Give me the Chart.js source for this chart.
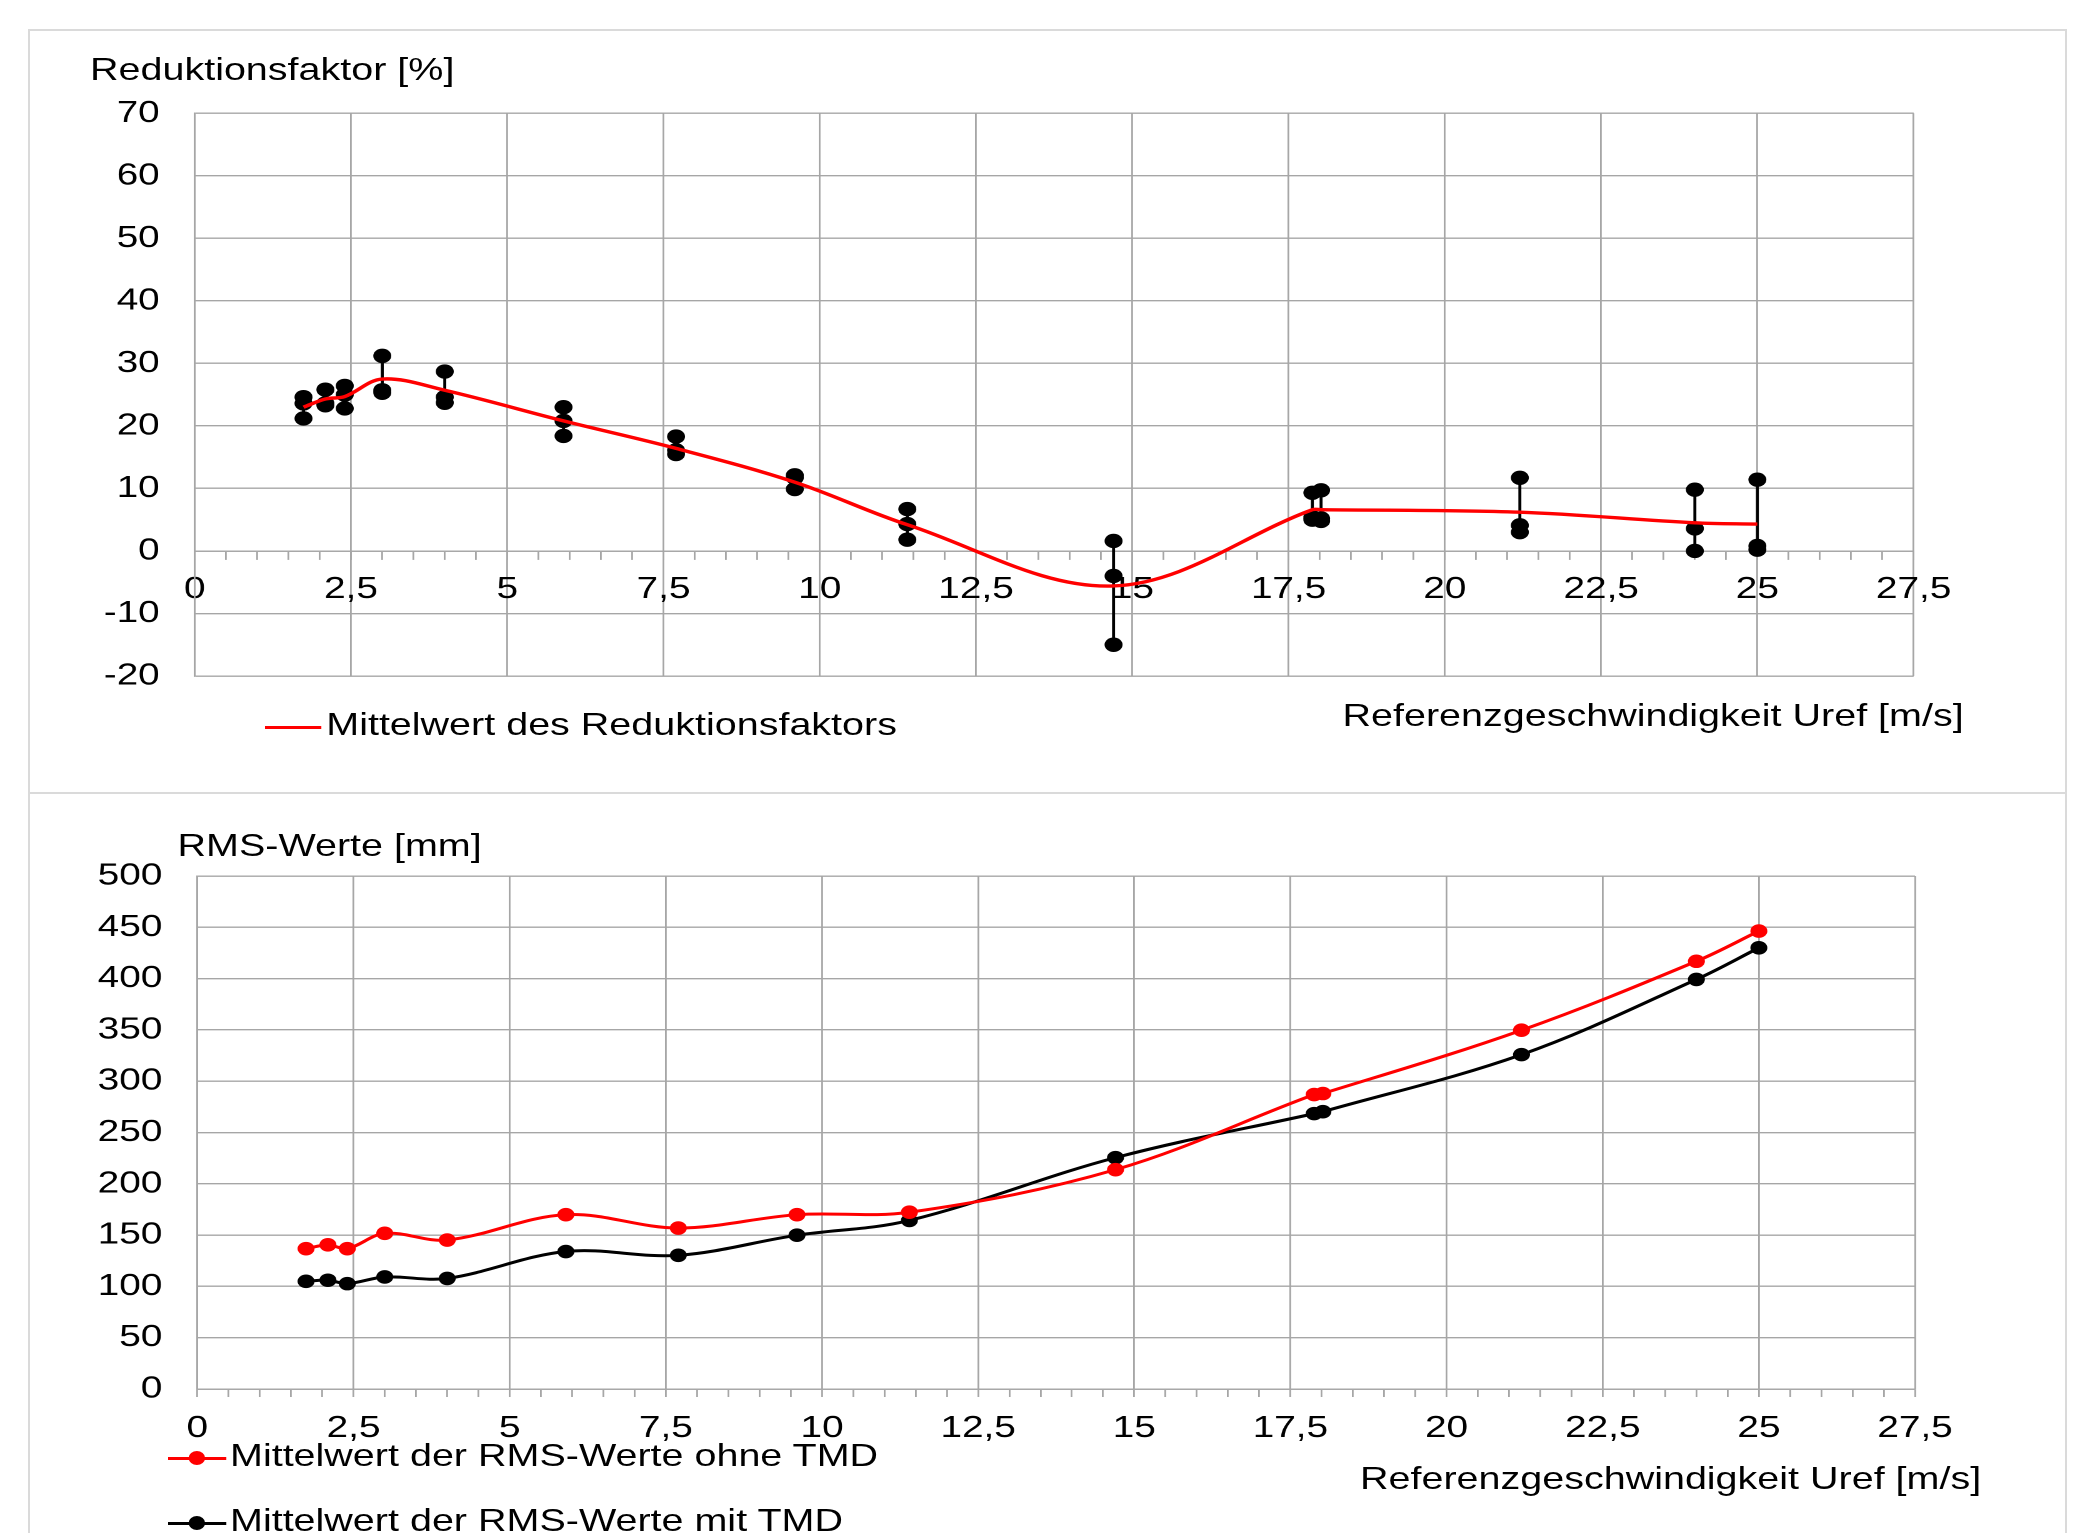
<!DOCTYPE html>
<html lang="de">
<head>
<meta charset="utf-8">
<title>Reduktionsfaktor und RMS-Werte</title>
<script src="https://cdn.jsdelivr.net/npm/chart.js@4.4.1/dist/chart.umd.min.js"></script>
<style>
    html, body { margin: 0; padding: 0; background: #fff; }
    body {
        width: 2091px; height: 1533px; overflow: hidden; position: relative;
        font-family: 'Liberation Sans', Arial, sans-serif;
    }
    .frame { position: absolute; box-sizing: border-box; border: 2px solid #dadada; }
    /* the source picture is stretched sideways, so the whole chart is drawn narrow and widened */
    #stage {
        position: absolute; left: 0; top: 0; width: 1673px; height: 1533px;
        transform: scaleX(1.25); transform-origin: 0 0;
    }
    #stage canvas { position: absolute; left: 0; }
    .txt {
        position: absolute; font-size: 31.6px; line-height: 31.6px;
        color: #000; white-space: nowrap;
    }
    .key-line { position: absolute; height: 3px; }
    .key-dot { position: absolute; width: 13.6px; height: 13.6px; border-radius: 50%; }
</style>
</head>
<body>

<div class="frame" style="left:28px; top:29px; width:2039px; height:765px;"></div>
<div class="frame" style="left:28px; top:792px; width:2039px; height:800px;"></div>

<div id="stage">
    <canvas id="reduction-chart" width="1673" height="793" style="top:0;"></canvas>
    <canvas id="rms-chart" width="1673" height="740" style="top:793px;"></canvas>

    <div class="txt" style="left:72px; top:54px;">Reduktionsfaktor [%]</div>
    <div class="key-line" style="left:211.6px; top:725.5px; width:45px; background:#ff0000;"></div>
    <div class="txt" style="left:261px; top:709px;">Mittelwert des Reduktionsfaktors</div>
    <div class="txt" style="left:1074px; top:700px;">Referenzgeschwindigkeit Uref [m/s]</div>

    <div class="txt" style="left:142px; top:830px;">RMS-Werte [mm]</div>
    <div class="key-line" style="left:134.4px; top:1456.5px; width:46.4px; background:#ff0000;"></div>
    <div class="key-dot" style="left:150.8px; top:1451.2px; background:#ff0000;"></div>
    <div class="txt" style="left:184px; top:1440px;">Mittelwert der RMS-Werte ohne TMD</div>
    <div class="key-line" style="left:134.4px; top:1521.5px; width:46.4px; background:#000;"></div>
    <div class="key-dot" style="left:150.8px; top:1516.2px; background:#000;"></div>
    <div class="txt" style="left:184px; top:1505px;">Mittelwert der RMS-Werte mit TMD</div>
    <div class="txt" style="left:1088px; top:1463px;">Referenzgeschwindigkeit Uref [m/s]</div>
</div>

<script>
// Reference wind speeds Uref [m/s]
const speeds = [1.74, 2.09, 2.40, 3.00, 4.00, 5.90, 7.70, 9.60, 11.40, 14.70, 17.88, 18.02, 21.20, 24.00, 25.00];

// Reduction factor [%] of the three single runs per speed
const runHigh = [24.6, 25.8, 26.4, 31.2, 28.7, 23.0, 18.3, 12.1, 6.7, 1.6, 9.3, 9.7, 11.7, 9.8, 11.4];
const runMid = [23.6, 23.6, 25.0, 25.7, 24.6, 20.8, 16.1, 11.7, 4.3, -4.0, 5.4, 5.2, 4.1, 3.6, 0.8];
const runLow = [21.2, 23.3, 22.8, 25.3, 23.7, 18.4, 15.5, 9.9, 1.8, -15.0, 5.0, 4.8, 3.0, 0.0, 0.2];
const meanReduction = [23.0, 24.3, 24.7, 27.5, 25.7, 20.8, 16.4, 11.0, 4.2, -5.6, 6.6, 6.6, 6.2, 4.5, 4.3];

// Mean RMS values [mm]
const rmsWithout = [136.8, 140.5, 136.8, 151.7, 145.2, 169.9, 156.9, 169.9, 172.3, 213.8, 287.0, 288.0, 349.7, 416.9, 446.3];
const rmsWith = [105.0, 106.0, 102.7, 109.2, 107.8, 134.0, 130.3, 149.9, 164.3, 225.5, 268.4, 270.3, 325.9, 399.2, 430.0];

// Axis ticks
const speedMajorTicks = [0, 2.5, 5, 7.5, 10, 12.5, 15, 17.5, 20, 22.5, 25, 27.5];
const reductionTicks = [-20, -10, 0, 10, 20, 30, 40, 50, 60, 70];
const rmsTicks = [0, 50, 100, 150, 200, 250, 300, 350, 400, 450, 500];

const gridGray = '#a6a6a6';
const fontFamily = "'Liberation Sans', Arial, sans-serif";
const tickFont = { family: fontFamily, size: 31 };

function speedLabel(value) {
    return speedMajorTicks.includes(value) ? String(value).replace('.', ',') : '';
}

function speedAxis(position, padding) {
    return {
        type: 'linear',
        position: position,
        min: 0,
        max: 27.5,
        afterFit: scale => { scale.height = 144; },
        ticks: {
            stepSize: 0.5,
            autoSkip: false,
            maxRotation: 0,
            minRotation: 0,
            padding: padding,
            color: '#000',
            font: tickFont,
            callback: speedLabel
        },
        grid: {
            color: ctx => speedMajorTicks.includes(ctx.tick.value) ? gridGray : 'rgba(0,0,0,0)',
            tickColor: gridGray,
            tickLength: 8,
            lineWidth: 1.4
        },
        border: { color: gridGray, width: 1.4 }
    };
}

function valueAxis(min, max, tickValues, width) {
    return {
        type: 'linear',
        position: 'left',
        min: min,
        max: max,
        afterBuildTicks: scale => { scale.ticks = tickValues.map(v => ({ value: v })); },
        afterFit: scale => { scale.width = width; },
        ticks: {
            padding: 28,
            color: '#000',
            font: tickFont,
            callback: value => String(value)
        },
        grid: { color: gridGray, lineWidth: 1.4, drawTicks: false },
        border: { color: gridGray, width: 1.4 }
    };
}

const commonOptions = {
    responsive: false,
    devicePixelRatio: 2,
    animation: false,
    events: [],
    plugins: {
        legend: { display: false },
        tooltip: { enabled: false }
    }
};

// Vertical range line (min to max) for every speed, broken by null gaps
const rangeSegments = [];
speeds.forEach((s, i) => {
    const vals = [runHigh[i], runMid[i], runLow[i]];
    rangeSegments.push({ x: s, y: Math.min(...vals) });
    rangeSegments.push({ x: s, y: Math.max(...vals) });
    rangeSegments.push({ x: s, y: null });
});

const runPoints = speeds.flatMap((s, i) =>
    [runHigh[i], runMid[i], runLow[i]].map(y => ({ x: s, y: y }))
);

new Chart(document.getElementById('reduction-chart'), {
    type: 'scatter',
    data: {
        datasets: [
            {
                label: 'Mittelwert des Reduktionsfaktors',
                data: speeds.map((s, i) => ({ x: s, y: meanReduction[i] })),
                showLine: true,
                borderColor: '#ff0000',
                borderWidth: 3.4,
                pointRadius: 0,
                tension: 0.35
            },
            {
                label: 'Einzelwerte',
                data: runPoints,
                showLine: false,
                pointRadius: 7.2,
                backgroundColor: '#000',
                borderWidth: 0
            },
            {
                label: 'Spannweite',
                data: rangeSegments,
                showLine: true,
                spanGaps: false,
                borderColor: '#000',
                borderWidth: 2.4,
                pointRadius: 0
            }
        ]
    },
    options: {
        ...commonOptions,
        layout: { padding: { left: 0, top: 113.3, right: 142.1, bottom: 117 } },
        scales: {
            x: speedAxis({ y: 0 }, 12),
            y: valueAxis(-20, 70, reductionTicks, 155.8)
        }
    }
});

new Chart(document.getElementById('rms-chart'), {
    type: 'scatter',
    data: {
        datasets: [
            {
                label: 'Mittelwert der RMS-Werte ohne TMD',
                data: speeds.map((s, i) => ({ x: s, y: rmsWithout[i] })),
                showLine: true,
                borderColor: '#ff0000',
                backgroundColor: '#ff0000',
                borderWidth: 3,
                pointRadius: 6.8,
                pointBorderWidth: 0,
                tension: 0.35
            },
            {
                label: 'Mittelwert der RMS-Werte mit TMD',
                data: speeds.map((s, i) => ({ x: s, y: rmsWith[i] })),
                showLine: true,
                borderColor: '#000',
                backgroundColor: '#000',
                borderWidth: 3,
                pointRadius: 6.8,
                pointBorderWidth: 0,
                tension: 0.35
            }
        ]
    },
    options: {
        ...commonOptions,
        layout: { padding: { left: 0, top: 83, right: 141, bottom: 0 } },
        scales: {
            x: speedAxis('bottom', 13),
            y: valueAxis(0, 500, rmsTicks, 157.9)
        }
    }
});
</script>
</body>
</html>
